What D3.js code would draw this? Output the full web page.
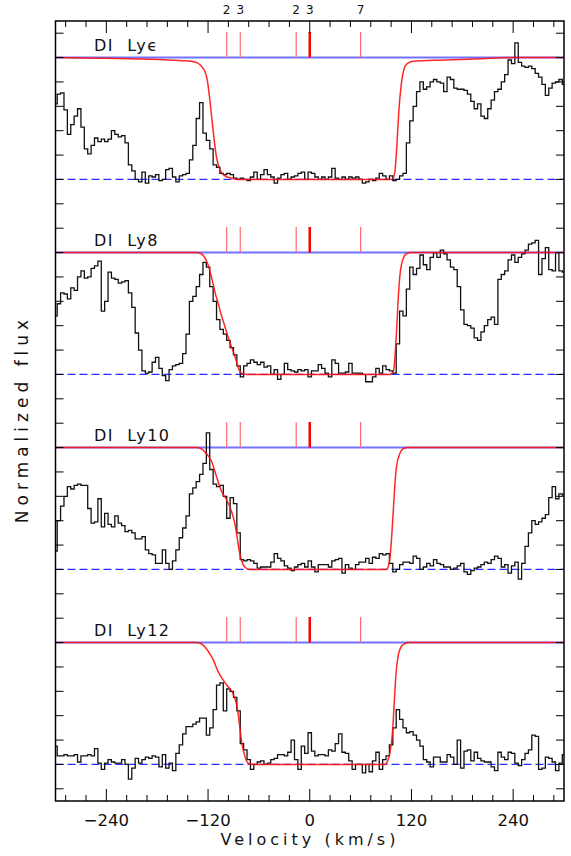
<!DOCTYPE html>
<html>
<head>
<meta charset="utf-8">
<script src="https://cdn.jsdelivr.net/npm/d3@7"></script>
<style>
  body { margin: 0; background: #fff; }
  svg { display: block; }
  text { font-family: "DejaVu Sans", sans-serif; fill: #111; }
</style>
</head>
<body>
<div class="container"></div>
<script>
// spectrum pixels: velStart + i*velStep (km/s)
var velStart = -300, velStep = 4;

var fluxLyEps = [
  0.62,0.70,0.71,0.57,0.37,0.45,0.52,0.58,0.43,0.25,0.21,0.28,0.34,0.31,0.33,0.31,0.33,0.40,0.37,0.35,
  0.36,0.30,0.12,0.07,0.0,-0.02,0.06,-0.03,0.03,0.02,0.04,-0.01,0.0,0.08,0.09,0.02,-0.02,0.03,0.04,0.05,
  0.16,0.28,0.50,0.63,0.38,0.32,0.25,0.12,0.10,0.05,0.04,0.05,0.04,0.01,0.0,0.01,0.0,-0.01,0.02,0.06,
  0.0,0.04,0.08,0.04,0.02,-0.03,0.01,0.04,0.05,0.0,0.02,0.03,0.05,
  0.06,0.0,0.06,0.05,0.02,0.0,0.02,0.0,0.02,0.09,0.01,0.0,0.02,0.0,0.02,0.01,0.02,0.0,-0.03,-0.02,
  0.0,-0.01,0.01,0.05,0.03,0.0,0.03,-0.01,0.0,0.03,0.05,0.3,0.48,0.6,0.72,0.8,0.74,0.76,0.8,0.82,
  0.8,0.79,0.72,0.84,0.82,0.75,0.74,0.74,0.73,0.7,0.64,0.58,0.62,0.52,0.5,0.58,0.65,0.72,0.74,0.8,
  0.86,0.98,0.95,1.12,0.96,0.93,0.92,0.93,0.91,0.87,0.84,0.78,0.69,0.75,0.79,0.8,0.82,0.78
];
var fluxLy8 = [
  0.48,0.58,0.67,0.66,0.62,0.71,0.69,0.8,0.85,0.79,0.8,0.87,0.89,0.93,0.52,0.6,0.84,0.79,0.78,0.75,
  0.76,0.77,0.67,0.55,0.34,0.2,0.03,0.01,0.02,0.1,0.14,0.05,-0.01,-0.05,0.04,0.07,0.08,0.09,0.17,0.33,
  0.6,0.64,0.72,0.82,0.92,0.88,0.72,0.6,0.45,0.37,0.33,0.28,0.22,0.16,0.07,-0.02,0.07,0.09,0.12,0.1,
  0.08,0.1,0.06,0.07,0.0,0.04,-0.04,0.0,0.09,0.04,0.03,0.02,0.04,
  0.03,0.04,-0.02,0.03,0.03,0.08,0.05,0.01,-0.02,0.12,0.09,0.01,0.01,0.02,0.09,0.01,0.01,0.01,0.0,-0.06,
  -0.06,-0.02,0.05,0.01,0.07,0.04,0.03,0.01,0.25,0.52,0.48,0.7,0.88,0.82,0.87,0.98,0.9,0.86,0.96,1.0,
  0.96,1.02,0.99,0.94,0.88,0.86,0.72,0.53,0.41,0.4,0.38,0.3,0.28,0.35,0.4,0.45,0.47,0.41,0.78,0.82,
  0.85,0.94,0.98,0.92,0.96,0.99,1.02,1.07,1.08,1.1,0.82,0.95,1.04,0.86,0.85,1.0,0.85,0.84
];
var fluxLy10 = [
  0.15,0.4,0.52,0.6,0.68,0.66,0.69,0.7,0.69,0.69,0.5,0.38,0.39,0.58,0.35,0.46,0.37,0.35,0.44,0.38,
  0.36,0.31,0.32,0.3,0.25,0.25,0.27,0.16,0.13,0.12,0.05,0.05,0.16,0.05,0.0,0.07,0.16,0.26,0.34,0.44,
  0.62,0.67,0.72,0.78,0.87,1.12,0.82,0.7,0.68,0.69,0.6,0.42,0.59,0.54,0.3,0.08,0.07,0.08,0.07,0.05,
  0.01,0.02,0.02,0.02,0.06,0.13,0.09,0.07,0.03,0.01,-0.01,0.02,0.04,
  0.05,0.02,0.07,0.02,-0.02,0.04,0.04,0.04,0.02,0.07,0.08,0.09,-0.03,0.04,0.01,0.0,0.04,0.06,0.06,0.09,
  0.05,0.1,0.09,0.13,0.12,0.13,0.05,-0.02,0.0,0.04,0.06,0.06,0.05,0.11,0.09,0.0,0.02,0.05,0.03,0.08,
  0.05,0.04,0.02,0.02,0.0,0.01,0.03,0.05,-0.02,-0.04,-0.01,0.01,0.02,0.04,0.06,0.05,0.08,0.11,0.09,0.02,
  0.04,-0.03,0.03,0.06,-0.08,0.05,0.19,0.3,0.4,0.37,0.39,0.42,0.45,0.59,0.68,0.58,0.62,0.61
];
var fluxLy12 = [
  0.15,0.07,0.07,0.08,0.07,0.07,0.08,0.02,0.07,0.07,0.08,0.07,0.13,0.01,-0.04,0.01,0.04,0.02,0.01,0.01,
  0.04,0.0,-0.12,-0.03,0.05,0.01,0.04,0.06,0.05,0.07,0.06,-0.02,0.08,-0.03,0.01,-0.05,0.09,0.16,0.25,0.31,
  0.31,0.33,0.35,0.38,0.38,0.24,0.3,0.45,0.65,0.67,0.44,0.62,0.6,0.55,0.44,0.17,0.12,0.04,-0.04,0.0,
  0.02,0.03,0.0,0.01,0.04,0.05,0.08,0.08,0.07,0.1,0.2,0.04,-0.04,
  0.15,0.09,0.26,0.11,0.07,0.08,0.08,0.07,0.12,0.11,0.17,0.25,0.1,0.09,0.03,-0.04,0.0,0.0,-0.07,0.0,
  -0.06,0.03,0.1,-0.04,0.04,0.07,0.16,0.3,0.45,0.37,0.3,0.26,0.27,0.24,0.2,0.15,0.04,0.02,-0.02,0.06,
  0.06,0.02,0.02,0.08,0.06,0.0,0.2,-0.03,0.11,0.12,0.03,0.1,0.05,0.03,0.02,0.02,-0.02,-0.05,0.1,0.06,
  0.04,0.1,0.09,0.01,-0.01,0.04,0.09,0.12,0.24,0.23,-0.04,-0.03,0.06,0.05,0.02,-0.05,0.01,0.08
];

// fitted model
var modelVelLyEps  = [-300,-250,-200,-160,-140,-132,-128,-124,-121,-118,-114,-110,-106,-100,-92,-84,96,99,101,103,105,108,111,115,122,160,200,240,300];
var modelFluxLyEps = [1.0,0.995,0.988,0.978,0.97,0.955,0.93,0.89,0.82,0.66,0.40,0.18,0.08,0.03,0.01,0,0,0.02,0.1,0.3,0.55,0.78,0.9,0.95,0.97,0.98,0.99,1.0,1.0];
var modelVelLy8  = [-300,-134,-128,-124,-120,-116,-112,-108,-104,-100,-96,-92,-88,-85,-82,-78,-74,94,98.4,100.3,102.3,104.3,106.2,110.2,114.1,120,300];
var modelFluxLy8 = [1,1,0.99,0.96,0.9,0.8,0.68,0.58,0.48,0.39,0.3,0.22,0.14,0.07,0.02,0.003,0,0,0.02,0.12,0.34,0.61,0.8,0.95,0.99,1,1];
var modelVelLy10  = [-300,-134,-128,-122,-116,-110,-104,-98,-92.5,-88.5,-85.8,-83.4,-80.7,-76.7,-71,90.5,92.5,94.4,96.4,98.4,100.3,102.3,106.2,110.2,116,300];
var modelFluxLy10 = [1,1,0.99,0.95,0.89,0.76,0.64,0.57,0.48,0.38,0.27,0.16,0.08,0.02,0,0,0.02,0.08,0.24,0.46,0.68,0.84,0.95,0.99,1,1];
var modelVelLy12  = [-300,-134,-128,-122,-118,-114,-108,-102,-96.5,-90.5,-86.6,-84.6,-82.6,-80.7,-76.7,-72.8,-69,88.5,90.5,94.4,97.6,99.5,101.5,104.3,108.2,112.1,116,300];
var modelFluxLy12 = [1,1,0.99,0.95,0.91,0.86,0.76,0.69,0.64,0.58,0.5,0.42,0.31,0.2,0.07,0.01,0,0,0.01,0.09,0.26,0.48,0.72,0.89,0.97,0.99,1,1];

var panelNames = ['DI Ly\u03f5', 'DI Ly8', 'DI Ly10', 'DI Ly12'];
var panelOffsets = [4.8, 3.2, 1.6, 0];
var compVel = [-98, -82, -16, 0, 60];
var compLabels = ['2', '3', '2', '3', '7'];
var velTickLabels = [-240, -120, 0, 120, 240];

var panels = [
  { name: panelNames[0], off: panelOffsets[0], flux: fluxLyEps, mv: modelVelLyEps, mf: modelFluxLyEps },
  { name: panelNames[1], off: panelOffsets[1], flux: fluxLy8,   mv: modelVelLy8,   mf: modelFluxLy8 },
  { name: panelNames[2], off: panelOffsets[2], flux: fluxLy10,  mv: modelVelLy10,  mf: modelFluxLy10 },
  { name: panelNames[3], off: panelOffsets[3], flux: fluxLy12,  mv: modelVelLy12,  mf: modelFluxLy12 }
];

var W = 571, H = 856;
var frameL = 55.5, frameR = 564, frameT = 21, frameB = 801;

var svg = d3.select('.container').append('svg').attr('width', W).attr('height', H);

var x = d3.scaleLinear().domain([-300, 300]).range([frameL, frameR]);
var y = d3.scaleLinear().domain([-0.3, 6.1]).range([frameB, frameT]);

svg.append('clipPath').attr('id', 'frame')
  .append('rect').attr('x', frameL).attr('y', frameT).attr('width', frameR - frameL).attr('height', frameB - frameT);

var plot = svg.append('g').attr('clip-path', 'url(#frame)');

panels.forEach(function(p){
  // zero level and continuum
  plot.append('line')
    .attr('x1', x(-300)).attr('x2', x(300))
    .attr('y1', y(p.off)).attr('y2', y(p.off))
    .attr('stroke', '#2b2bff').attr('stroke-width', 1.2).attr('stroke-dasharray', '8,4');
  plot.append('line')
    .attr('x1', x(-300)).attr('x2', x(300))
    .attr('y1', y(p.off + 1)).attr('y2', y(p.off + 1))
    .attr('stroke', '#7272ff').attr('stroke-width', 2);

  // component markers
  plot.selectAll(null).data(compVel).enter().append('line')
    .attr('x1', function(d){ return x(d); }).attr('x2', function(d){ return x(d); })
    .attr('y1', y(p.off + 1)).attr('y2', y(p.off + 1.21))
    .attr('stroke', function(d){ return d === 0 ? '#ff0000' : '#ff6a6a'; })
    .attr('stroke-width', function(d){ return d === 0 ? 2.5 : 1.2; });

  // data
  var spec = d3.line()
    .x(function(d, i){ return x(velStart + i * velStep); })
    .y(function(d){ return y(p.off + d); })
    .curve(d3.curveStep);
  plot.append('path').datum(p.flux)
    .attr('d', spec)
    .attr('fill', 'none').attr('stroke', '#111').attr('stroke-width', 1.3);

  // model
  var model = d3.line()
    .x(function(d){ return x(d); })
    .y(function(d, i){ return y(p.off + p.mf[i]); })
    .curve(d3.curveMonotoneX);
  plot.append('path').datum(p.mv)
    .attr('d', model)
    .attr('fill', 'none').attr('stroke', '#ff1010').attr('stroke-width', 1.5).attr('stroke-opacity', 0.9);

  svg.append('text')
    .attr('x', 94).attr('y', y(p.off + 1.055))
    .attr('font-size', 16).attr('letter-spacing', 1.5)
    .attr('xml:space', 'preserve')
    .text(p.name.replace(' ', '  '));
});

// top component labels
svg.selectAll('.comp').data(compVel).enter().append('text')
  .attr('class', 'comp')
  .attr('x', function(d){ return x(d); })
  .attr('y', 14)
  .attr('text-anchor', 'middle')
  .attr('font-size', 12)
  .text(function(d, i){ return compLabels[i]; });

// frame
svg.append('rect')
  .attr('x', frameL).attr('y', frameT).attr('width', frameR - frameL).attr('height', frameB - frameT)
  .attr('fill', 'none').attr('stroke', '#000').attr('stroke-width', 1.5);

// x ticks top and bottom
var xMinor = d3.range(-288, 300, 24);
svg.selectAll('.xtb').data(xMinor).enter().append('line')
  .attr('x1', function(d){ return x(d); }).attr('x2', function(d){ return x(d); })
  .attr('y1', frameB).attr('y2', function(d){ return frameB - (d % 120 === 0 ? 12 : 6); })
  .attr('stroke', '#000').attr('stroke-width', 1);
svg.selectAll('.xtt').data(xMinor).enter().append('line')
  .attr('x1', function(d){ return x(d); }).attr('x2', function(d){ return x(d); })
  .attr('y1', frameT).attr('y2', function(d){ return frameT + (d % 120 === 0 ? 12 : 6); })
  .attr('stroke', '#000').attr('stroke-width', 1);

// y ticks left and right
var yTicks = d3.range(-0.2, 6.05, 0.2);
svg.selectAll('.ytl').data(yTicks).enter().append('line')
  .attr('x1', frameL).attr('x2', frameL + 8)
  .attr('y1', function(d){ return y(d); }).attr('y2', function(d){ return y(d); })
  .attr('stroke', '#000').attr('stroke-width', 1);
svg.selectAll('.ytr').data(yTicks).enter().append('line')
  .attr('x1', frameR).attr('x2', frameR - 8)
  .attr('y1', function(d){ return y(d); }).attr('y2', function(d){ return y(d); })
  .attr('stroke', '#000').attr('stroke-width', 1);

// tick labels
svg.selectAll('.xl').data(velTickLabels).enter().append('text')
  .attr('x', function(d){ return x(d); })
  .attr('y', 826)
  .attr('text-anchor', 'middle')
  .attr('font-size', 16.5)
  .text(function(d){ return d < 0 ? '\u2212' + Math.abs(d) : d; });

svg.append('text')
  .attr('x', 310).attr('y', 845)
  .attr('text-anchor', 'middle')
  .attr('font-size', 16).attr('letter-spacing', 4)
  .text('Velocity (km/s)');

svg.append('text')
  .attr('transform', 'translate(28,419) rotate(-90)')
  .attr('text-anchor', 'middle')
  .attr('font-size', 17).attr('letter-spacing', 5)
  .text('Normalized flux');
</script>
</body>
</html>
